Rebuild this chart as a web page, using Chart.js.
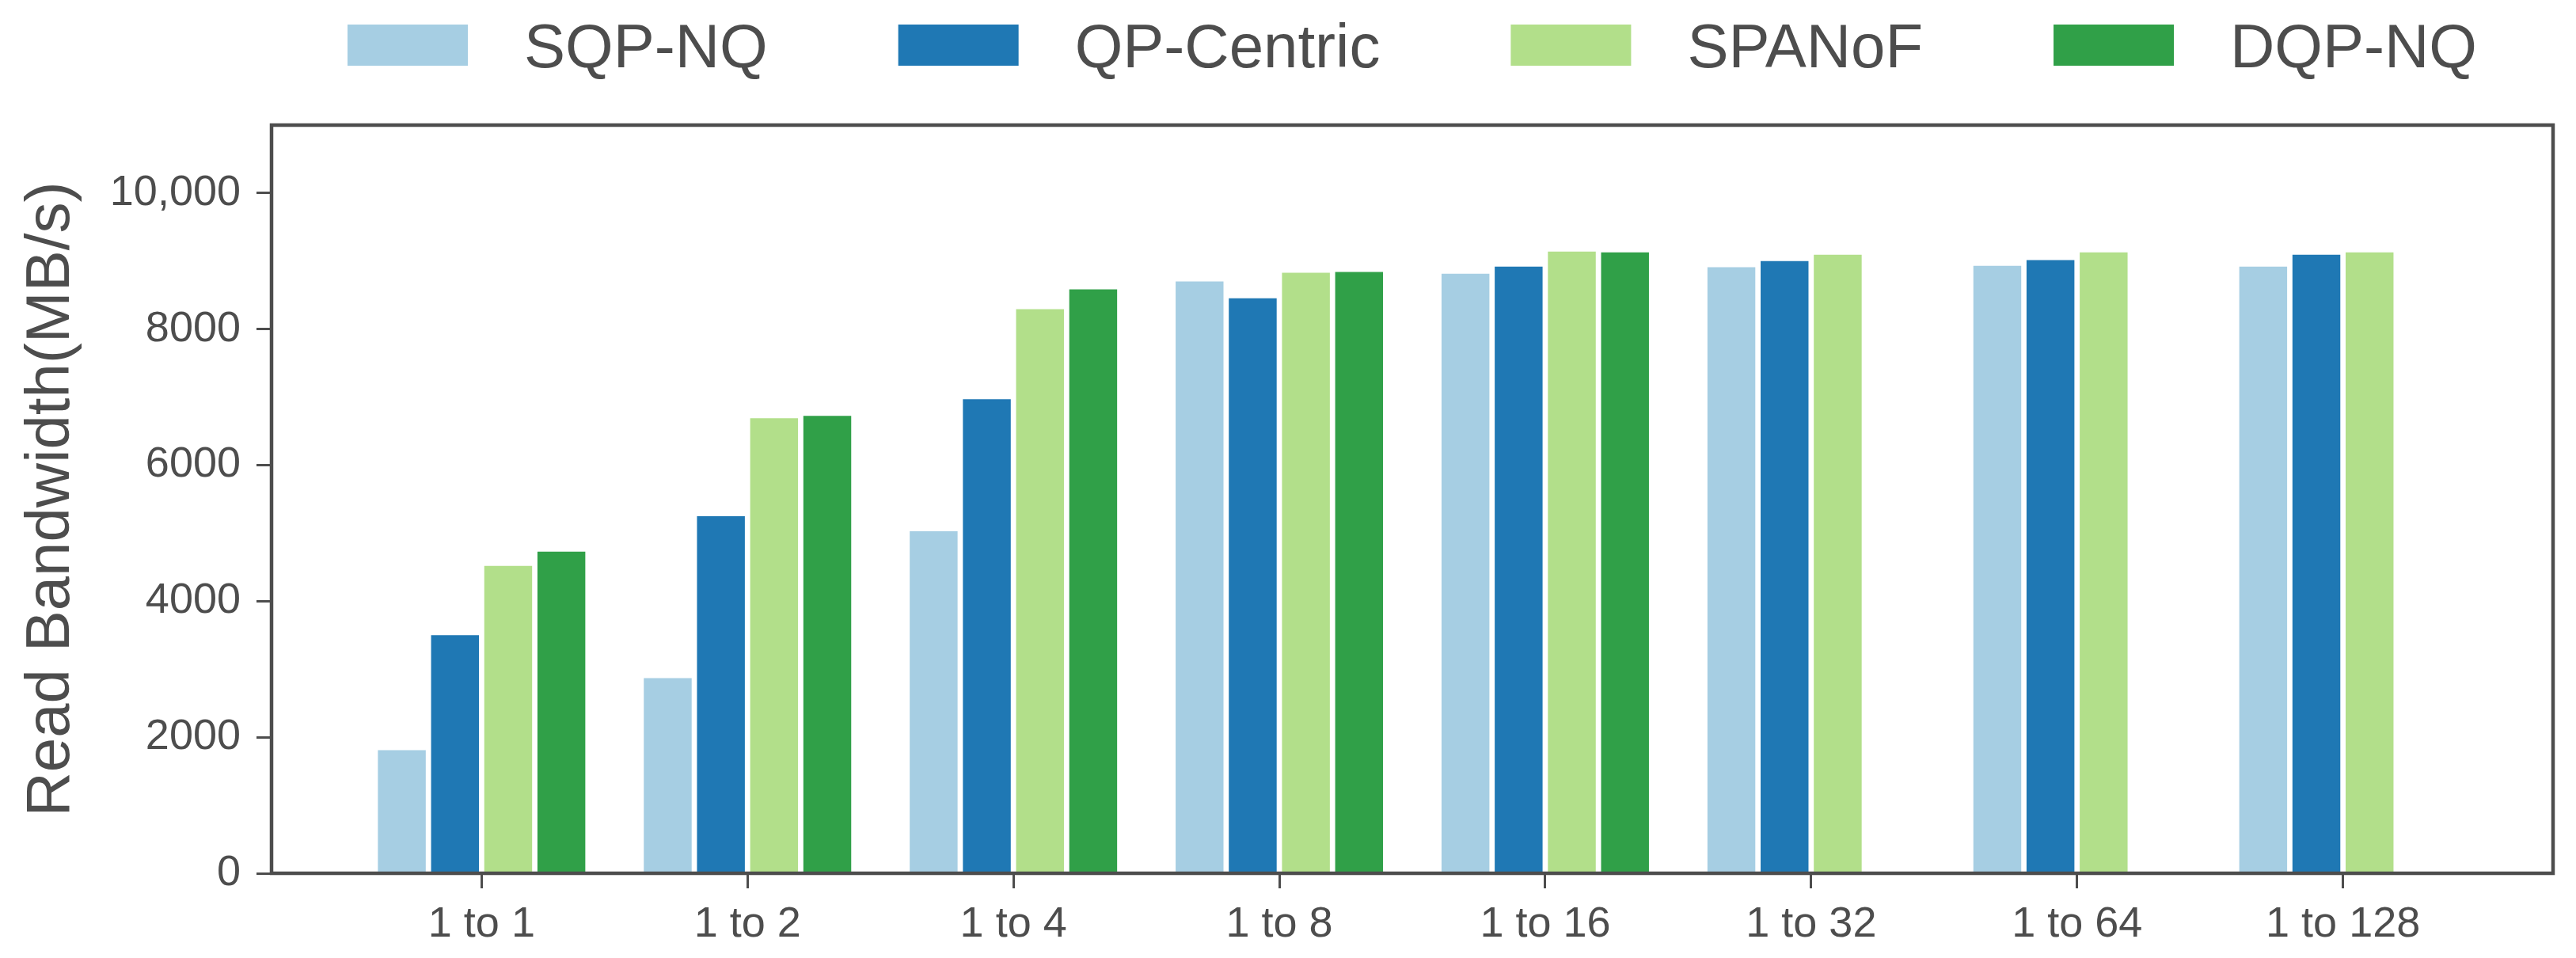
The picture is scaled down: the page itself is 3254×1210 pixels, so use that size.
<!DOCTYPE html>
<html>
<head>
<meta charset="utf-8">
<script src="https://cdn.jsdelivr.net/npm/chart.js@4.4.1/dist/chart.umd.min.js"></script>
<style>
  html, body { margin: 0; padding: 0; background: #fff; }
  canvas { display: block; }
</style>
</head>
<body>
<canvas id="canvas" width="3254" height="1210"></canvas>
<script>
const categories = ['1 to 1', '1 to 2', '1 to 4', '1 to 8', '1 to 16', '1 to 32', '1 to 64', '1 to 128'];
const sqpNq = [1810, 2870, 5030, 8700, 8815, 8910, 8930, 8920];
const qpCentric = [3500, 5250, 6970, 8455, 8920, 9000, 9015, 9095];
const spanof = [4520, 6690, 8295, 8830, 9140, 9095, 9130, 9130];
const dqpNq = [4730, 6725, 8585, 8840, 9130, null, null, null];
const yTicks = [0, 2000, 4000, 6000, 8000, 10000];
const yTickLabels = ['0', '2000', '4000', '6000', '8000', '10,000'];

const fontFamily = '"Liberation Sans", Arial, Helvetica, sans-serif';
const inkColor = '#4d4d4d';

function toPoints(values) {
  return values.map((v, i) => ({x: i, y: v}));
}

// box round the plot + legend on top, drawn like matplotlib does it
const frameAndLegend = {
  id: 'frameAndLegend',
  afterDraw(chart) {
    const {ctx, chartArea: a} = chart;
    ctx.save();
    ctx.strokeStyle = inkColor;
    ctx.lineWidth = 4.5;
    ctx.strokeRect(a.left, a.top, a.right - a.left, a.bottom - a.top);

    ctx.font = `78px ${fontFamily}`;
    const boxW = 152, boxH = 52, textGap = 71, itemGap = 165;
    const items = chart.data.datasets.map(ds => ({
      label: ds.label,
      color: ds.backgroundColor,
      w: ctx.measureText(ds.label).width,
    }));
    const total = items.reduce((s, it) => s + boxW + textGap + it.w, 0) + itemGap * (items.length - 1);
    let x = (a.left + a.right) / 2 - total / 2;
    ctx.textAlign = 'left';
    ctx.textBaseline = 'alphabetic';
    for (const it of items) {
      ctx.fillStyle = it.color;
      ctx.fillRect(x, 31, boxW, boxH);
      ctx.fillStyle = inkColor;
      ctx.fillText(it.label, x + boxW + textGap, 85);
      x += boxW + textGap + it.w + itemGap;
    }
    ctx.restore();
  }
};

document.addEventListener('DOMContentLoaded', () => {
  const context = document.getElementById('canvas').getContext('2d');

  const config = {
    type: 'bar',
    data: {
      datasets: [
        {label: 'SQP-NQ', data: toPoints(sqpNq), backgroundColor: '#a6cee3'},
        {label: 'QP-Centric', data: toPoints(qpCentric), backgroundColor: '#1f78b4'},
        {label: 'SPANoF', data: toPoints(spanof), backgroundColor: '#b2df8a'},
        {label: 'DQP-NQ', data: toPoints(dqpNq), backgroundColor: '#30a048'},
      ],
    },
    options: {
      responsive: false,
      animation: false,
      devicePixelRatio: 1,
      categoryPercentage: 0.8,
      barPercentage: 0.9,
      layout: {padding: {top: 158, right: 29, bottom: 0, left: 0}},
      plugins: {
        legend: {display: false},
        tooltip: {enabled: false},
      },
      scales: {
        x: {
          type: 'linear',
          min: -0.79,
          max: 7.79,
          offset: false,
          afterBuildTicks: scale => {
            scale.ticks = categories.map((c, i) => ({value: i}));
          },
          afterFit: scale => {
            scale.height = 107;
          },
          ticks: {
            callback: v => categories[v],
            font: {family: fontFamily, size: 54},
            color: inkColor,
            padding: 14,
            autoSkip: false,
            maxRotation: 0,
          },
          grid: {
            offset: false,
            drawOnChartArea: false,
            tickLength: 19,
            tickWidth: 3,
            tickColor: inkColor,
          },
          border: {display: false},
        },
        y: {
          min: 0,
          max: 11000,
          afterBuildTicks: scale => {
            scale.ticks = yTicks.map(v => ({value: v}));
          },
          afterFit: scale => {
            scale.width = 343;
          },
          ticks: {
            callback: v => yTickLabels[yTicks.indexOf(v)],
            font: {family: fontFamily, size: 54},
            color: inkColor,
            padding: 20,
          },
          grid: {
            drawOnChartArea: false,
            tickLength: 19,
            tickWidth: 3,
            tickColor: inkColor,
          },
          border: {display: false},
          title: {
            display: true,
            text: 'Read Bandwidth(MB/s)',
            font: {family: fontFamily, size: 78, lineHeight: 1},
            color: inkColor,
            padding: {top: 26, bottom: 0},
          },
        },
      },
    },
    plugins: [frameAndLegend],
  };

  new Chart(context, config);
});
</script>
</body>
</html>
